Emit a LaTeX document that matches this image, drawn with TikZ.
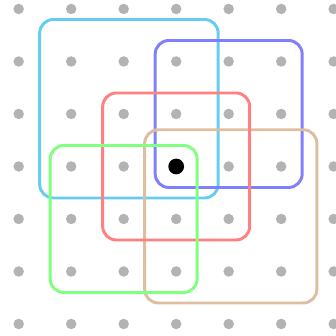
\documentclass[tikz,border=0pt]{standalone}
\definecolor{dotgray}{RGB}{179,179,179}
\definecolor{cskyblue}{RGB}{102,204,245}
\definecolor{cblue}{RGB}{128,128,255}
\definecolor{cred}{RGB}{255,128,128}
\definecolor{cgreen}{RGB}{128,255,128}
\definecolor{ctan}{RGB}{221,190,159}
\tikzset{
  griddot/.style={fill=dotgray},
  frame/.style={line width=1.6pt, rounded corners=0.26cm},
}
\begin{document}
\begin{tikzpicture}
\useasboundingbox (-3.356,-3.229) rectangle (3.044,3.171);
\foreach \x in {-3,...,3}
  \foreach \y in {-3,...,3}
    \fill[griddot] (\x,\y) circle (0.1);
\draw[frame, cskyblue] (-2.6,-0.6) rectangle (0.8,2.8);
\draw[frame, cblue] (-0.4,-0.4) rectangle (2.4,2.4);
\draw[frame, ctan] (-0.6,-2.6) rectangle (2.68,0.7);
\draw[frame, cred] (-1.4,-1.4) rectangle (1.4,1.4);
\draw[frame, cgreen] (-2.4,-2.4) rectangle (0.4,0.4);
\fill[black] (0,0) circle (0.15);
\end{tikzpicture}
\end{document}
